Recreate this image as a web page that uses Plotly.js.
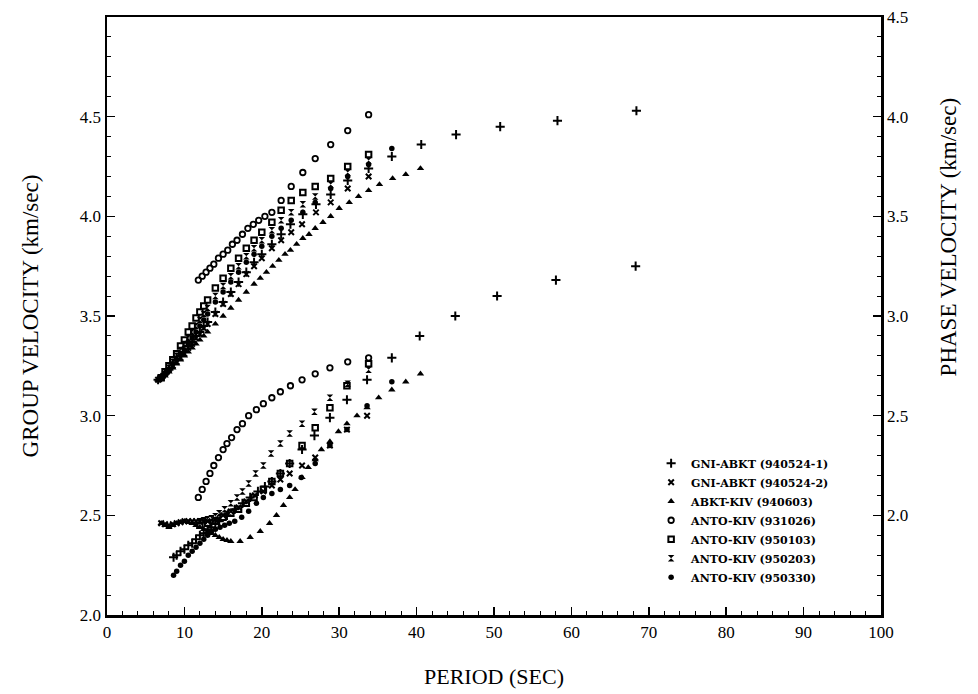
<!DOCTYPE html>
<html><head><meta charset="utf-8">
<script src="https://cdn.plot.ly/plotly-3.0.1.min.js"></script>
<style>html,body{margin:0;padding:0;background:#fff}#chart{width:978px;height:694px}</style>
</head><body><div id="chart"></div>
<script>
// ---- legend names ----
const names = ['GNI-ABKT (940524-1)','GNI-ABKT (940524-2)','ABKT-KIV (940603)','ANTO-KIV (931026)','ANTO-KIV (950103)','ANTO-KIV (950203)','ANTO-KIV (950330)'];

// ---- phase velocity (right axis, km/sec) : period / value ----
const phT_plus = [6.6,7,7.5,8,8.5,9,9.5,10,10.5,11,11.5,12,12.5,13,14,15,16,17,18,19,20,21.3,22.5,23.7,25.3,27.0,28.9,31.1,33.8,36.8,40.6,45.1,50.8,58.2,68.4];
const phV_plus = [2.68,2.69,2.71,2.73,2.76,2.78,2.80,2.82,2.85,2.87,2.90,2.92,2.95,2.97,3.02,3.07,3.12,3.17,3.22,3.27,3.31,3.36,3.41,3.46,3.51,3.56,3.61,3.68,3.74,3.80,3.86,3.91,3.95,3.98,4.03];
const phT_x = [6.6,7,7.5,8,8.5,9,9.5,10,10.5,11,11.5,12,12.5,13,14,15,16,17,18,19,20,21.3,22.5,23.8,25.2,27.0,28.9,31.1,33.8];
const phV_x = [2.68,2.69,2.71,2.73,2.75,2.77,2.79,2.81,2.84,2.86,2.89,2.91,2.94,2.96,3.01,3.06,3.11,3.16,3.21,3.25,3.29,3.34,3.38,3.42,3.46,3.52,3.57,3.64,3.70];
const phT_tri = [6.6,7,7.5,8,8.5,9,9.5,10,10.5,11,11.5,12,12.5,13,14,15,16,17,18,19,19.8,20.6,21.4,22.2,23.0,23.7,24.5,25.3,26.1,26.9,27.9,28.9,30.0,31.3,32.5,33.8,35.2,36.9,38.6,40.5];
const phV_tri = [2.68,2.69,2.70,2.72,2.74,2.76,2.78,2.80,2.82,2.84,2.86,2.88,2.90,2.92,2.96,3.00,3.04,3.08,3.12,3.16,3.19,3.22,3.25,3.28,3.31,3.33,3.36,3.39,3.41,3.44,3.47,3.50,3.54,3.57,3.60,3.63,3.66,3.69,3.71,3.74];
const phT_oc = [11.8,12.3,12.8,13.3,13.8,14.4,15.0,15.6,16.2,16.8,17.5,18.2,18.9,19.6,20.4,21.3,22.5,23.8,25.3,26.9,28.9,31.1,33.8];
const phV_oc = [3.18,3.20,3.22,3.24,3.26,3.29,3.31,3.33,3.36,3.38,3.41,3.44,3.46,3.48,3.50,3.52,3.58,3.65,3.72,3.79,3.86,3.93,4.01];
const phT_sq = [7,7.5,8,8.5,9,9.5,10,10.5,11,11.5,12,12.5,13,14,15,16,17,18,19,20,21.3,22.5,23.8,25.3,26.9,28.9,31.1,33.8];
const phV_sq = [2.69,2.72,2.75,2.78,2.81,2.85,2.88,2.92,2.95,2.99,3.02,3.05,3.08,3.14,3.19,3.24,3.29,3.34,3.38,3.42,3.47,3.53,3.58,3.62,3.65,3.69,3.75,3.81];
const phT_hg = [7,7.5,8,8.5,9,9.5,10,10.5,11,11.5,12,12.5,13,14,15,16,17,18,19,20,21.3,22.5,23.8,25.3,26.9,28.9,31.1,33.8];
const phV_hg = [2.69,2.72,2.74,2.77,2.80,2.83,2.86,2.89,2.92,2.95,2.98,3.01,3.04,3.10,3.15,3.20,3.25,3.30,3.34,3.38,3.43,3.48,3.52,3.56,3.60,3.66,3.72,3.78];
const phT_fc = [7,7.5,8,8.5,9,9.5,10,10.5,11,11.5,12,12.5,13,14,15,16,17,18,19,20,21.3,22.5,23.8,25.3,26.9,28.9,31.1,33.8,36.8];
const phV_fc = [2.69,2.71,2.73,2.76,2.78,2.81,2.83,2.86,2.89,2.92,2.95,2.98,3.01,3.07,3.12,3.17,3.22,3.27,3.31,3.35,3.40,3.44,3.48,3.52,3.57,3.64,3.70,3.76,3.84];

// ---- group velocity (left axis, km/sec) : period / value ----
const grT_plus = [8.6,9,9.5,10,10.5,11,11.5,12,12.5,13,13.5,14,14.5,15.5,16.5,17.5,18.5,19.5,20.4,21.3,22.4,23.6,25.2,26.8,28.8,31.0,33.6,36.8,40.4,45.0,50.4,58.0,68.3];
const grV_plus = [2.29,2.30,2.32,2.33,2.35,2.36,2.38,2.40,2.41,2.43,2.44,2.46,2.47,2.50,2.53,2.56,2.59,2.62,2.645,2.67,2.71,2.76,2.83,2.90,2.99,3.08,3.18,3.29,3.40,3.50,3.60,3.68,3.75];
const grT_x = [7,7.5,8,8.5,9,9.5,10,10.5,11,11.5,12,12.5,13,14,15,16,17,18,19.1,20.2,21.3,22.4,23.6,25.2,26.9,28.8,31.0,33.6];
const grV_x = [2.46,2.455,2.45,2.455,2.46,2.465,2.47,2.47,2.47,2.47,2.47,2.47,2.47,2.48,2.50,2.52,2.54,2.57,2.60,2.62,2.65,2.68,2.71,2.75,2.79,2.85,2.93,3.00];
const grT_tri = [7,7.5,8,8.5,9,9.5,10,10.5,11,11.5,12,12.5,13,13.5,14,14.5,15,15.5,16,17.2,18.5,19.8,21.0,21.9,22.8,23.6,24.3,25.2,26.0,26.9,27.7,28.8,29.9,31.0,32.3,33.6,35.1,36.8,38.6,40.5];
const grV_tri = [2.46,2.45,2.44,2.45,2.46,2.465,2.47,2.465,2.46,2.45,2.44,2.43,2.42,2.41,2.40,2.39,2.38,2.375,2.37,2.37,2.39,2.42,2.46,2.50,2.55,2.59,2.63,2.69,2.74,2.78,2.83,2.87,2.92,2.96,3.00,3.04,3.09,3.13,3.17,3.21];
const grT_oc = [11.8,12.3,12.8,13.3,13.8,14.4,15.0,15.5,16.1,16.8,17.5,18.3,19.3,20.2,21.3,22.4,23.7,25.2,26.9,28.8,31.1,33.8];
const grV_oc = [2.59,2.63,2.67,2.71,2.75,2.79,2.83,2.86,2.89,2.93,2.96,3.00,3.03,3.06,3.09,3.12,3.15,3.18,3.21,3.24,3.27,3.29];
const grT_sq = [12,13,14,15,16,17,18,19,20.2,21.3,22.4,23.6,25.2,26.9,28.8,31.0,33.8];
const grV_sq = [2.45,2.46,2.47,2.49,2.51,2.53,2.56,2.59,2.63,2.67,2.71,2.76,2.85,2.94,3.04,3.15,3.26];
const grT_hg = [12,12.5,13,13.5,14,14.5,15.2,16,16.8,17.5,18.3,19.2,20.2,21.2,22.4,23.6,25.2,26.8,28.8,31.1,33.8];
const grV_hg = [2.47,2.475,2.48,2.485,2.495,2.51,2.53,2.56,2.59,2.62,2.66,2.71,2.75,2.81,2.86,2.91,2.96,3.02,3.09,3.16,3.23];
const grT_fc = [8.6,9,9.5,10,10.5,11,11.5,12,12.5,13,13.5,14,14.6,15.2,15.8,16.5,17.4,18.3,19.3,20.2,21.3,22.4,23.6,25.1,26.9,28.8,31.0,33.6,36.8];
const grV_fc = [2.20,2.22,2.25,2.27,2.30,2.32,2.34,2.36,2.38,2.40,2.42,2.43,2.44,2.45,2.46,2.47,2.49,2.52,2.56,2.59,2.61,2.63,2.65,2.69,2.76,2.85,2.93,3.05,3.17];

// ---- tick labels ----
const xTicks = [0,10,20,30,40,50,60,70,80,90,100];
const yLeftTicks = [2.0,2.5,3.0,3.5,4.0,4.5];
const yRightTicks = [2.0,2.5,3.0,3.5,4.0,4.5];

const phase = [[phT_plus,phV_plus],[phT_x,phV_x],[phT_tri,phV_tri],[phT_oc,phV_oc],[phT_sq,phV_sq],[phT_hg,phV_hg],[phT_fc,phV_fc]];
const group = [[grT_plus,grV_plus],[grT_x,grV_x],[grT_tri,grV_tri],[grT_oc,grV_oc],[grT_sq,grV_sq],[grT_hg,grV_hg],[grT_fc,grV_fc]];

const mk = [
  {symbol:'cross-thin-open', size:6.5, line:{width:2,color:'#000'}, color:'#000'},
  {symbol:'x-thin-open', size:5.5, line:{width:2,color:'#000'}, color:'#000'},
  {symbol:'triangle-up', size:6.5, color:'#000', line:{width:0}},
  {symbol:'circle-open', size:5.5, line:{width:1.8,color:'#000'}, color:'#000'},
  {symbol:'square-open', size:5.5, line:{width:2,color:'#000'}, color:'#000'},
  {symbol:'hourglass', size:6.5, color:'#000', line:{width:0}},
  {symbol:'circle', size:5.5, color:'#000', line:{width:0}}
];

const traces = [];
names.forEach((n,i)=>{
  traces.push({x:group[i][0], y:group[i][1], mode:'markers', type:'scatter', name:n, legendgroup:'g'+i, showlegend:false, marker:mk[i], xaxis:'x', yaxis:'y', hoverinfo:'skip'});
});
names.forEach((n,i)=>{
  traces.push({x:phase[i][0], y:phase[i][1], mode:'markers', type:'scatter', name:n, legendgroup:'g'+i, showlegend:true, marker:mk[i], xaxis:'x', yaxis:'y2', hoverinfo:'skip'});
});

const serif = 'Liberation Serif, Times New Roman, serif';
const layout = {
  width:978, height:694,
  margin:{l:107, r:97, t:17, b:79},
  paper_bgcolor:'#fff', plot_bgcolor:'#fff',
  font:{family:serif, color:'#000'},
  showlegend:true,
  legend:{x:0.703, y:0.278, xanchor:'left', yanchor:'top', bgcolor:'rgba(0,0,0,0)', font:{family:'DejaVu Serif, serif', size:11, color:'#000', weight:'bold'}, tracegroupgap:0, itemwidth:30},
  xaxis:{range:[0,100], tickmode:'array', tickvals:xTicks, ticks:'inside', ticklen:8, tickwidth:1.5, tickcolor:'#000',
         minor:{tickmode:'linear', tick0:0, dtick:2, ticks:'inside', ticklen:4, tickwidth:1, tickcolor:'#000'},
         showline:true, linewidth:2.5, linecolor:'#000', mirror:true, showgrid:false, zeroline:false,
         tickfont:{family:serif, size:17, color:'#000'},
         title:{text:'PERIOD (SEC)', font:{family:serif, size:22, color:'#000'}, standoff:28}},
  yaxis:{range:[2,5], tickmode:'array', tickvals:yLeftTicks, tickformat:'.1f', ticks:'inside', ticklen:8, tickwidth:1.5, tickcolor:'#000',
         minor:{tickmode:'linear', tick0:2, dtick:0.1, ticks:'inside', ticklen:4, tickwidth:1, tickcolor:'#000'},
         showline:true, linewidth:2.5, linecolor:'#000', showgrid:false, zeroline:false,
         tickfont:{family:serif, size:17, color:'#000'},
         title:{text:'GROUP VELOCITY (km/sec)', font:{family:serif, size:23, color:'#000'}, standoff:35}},
  yaxis2:{range:[1.5,4.5], overlaying:'y', side:'right', tickmode:'array', tickvals:yRightTicks, tickformat:'.1f', ticks:'inside', ticklen:8, tickwidth:1.5, tickcolor:'#000',
         minor:{tickmode:'linear', tick0:1.5, dtick:0.1, ticks:'inside', ticklen:4, tickwidth:1, tickcolor:'#000'},
         showline:true, linewidth:2.5, linecolor:'#000', showgrid:false, zeroline:false,
         tickfont:{family:serif, size:17, color:'#000'}},
  annotations:[{text:'PHASE VELOCITY (km/sec)', xref:'paper', yref:'paper', x:1.087, y:0.632, xanchor:'center', yanchor:'middle', textangle:-90, showarrow:false, font:{family:serif, size:23, color:'#000'}}]
};
Plotly.newPlot('chart', traces, layout, {staticPlot:true, displayModeBar:false});
</script></body></html>
